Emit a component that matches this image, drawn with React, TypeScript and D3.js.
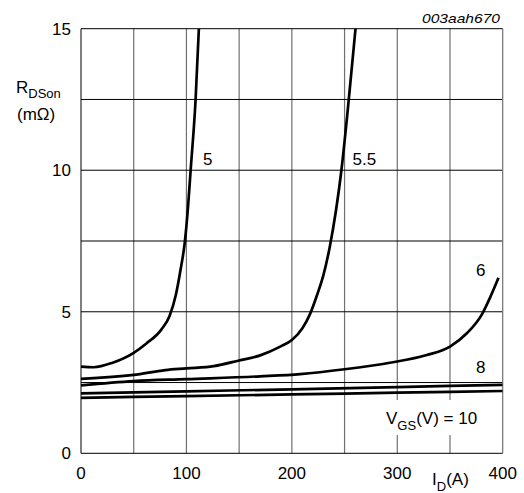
import React from "react";
import * as d3 from "d3";

// ---- data (I_D in A, R_DSon in mOhm) ----
const xTicks = [0, 100, 200, 300, 400];
const yTicks = [0, 5, 10, 15];
const xGrid = [50, 100, 150, 200, 250, 300, 350];
const yGrid = [2.5, 5, 7.5, 10, 12.5];

const vgs5: [number, number][] = [
  [0, 3.06], [12, 3.04], [30, 3.2], [50, 3.55], [62, 3.88], [76, 4.36], [84, 4.85],
  [90, 5.6], [94.5, 6.5], [98.5, 7.47], [101.5, 8.7], [104, 10.0], [108.7, 12.5], [111.8, 15],
];
const vgs55: [number, number][] = [
  [0, 2.63], [50, 2.77], [80, 2.94], [100, 3.0], [126, 3.08], [150, 3.28], [170, 3.46],
  [189, 3.77], [200, 4.0], [210, 4.42], [217, 4.9], [224, 5.6], [230, 6.3], [236, 7.3],
  [247, 10], [254, 12.5], [260.4, 15],
];
const vgs6: [number, number][] = [
  [0, 2.4], [50, 2.55], [100, 2.62], [170, 2.72], [208, 2.8], [250, 2.97], [293, 3.2],
  [328, 3.47], [350, 3.77], [366, 4.24], [380, 4.89], [388, 5.5], [396, 6.2],
];
const vgs8: [number, number][] = [
  [0, 2.12], [100, 2.19], [200, 2.26], [300, 2.34], [400, 2.42],
];
const vgs10: [number, number][] = [
  [0, 1.96], [100, 2.02], [200, 2.08], [300, 2.14], [400, 2.2],
];
const seriesList = [vgs5, vgs55, vgs6, vgs8, vgs10];

const FONT = "'Liberation Sans', Arial, Helvetica, sans-serif";

export default function App() {
  const L = 81, R = 502.7, T = 28.7, B = 453.3;
  const x = d3.scaleLinear().domain([0, 400]).range([L, R]);
  const y = d3.scaleLinear().domain([0, 15]).range([B, T]);
  const line = d3
    .line<[number, number]>()
    .x((d) => x(d[0]))
    .y((d) => y(d[1]))
    .curve(d3.curveMonotoneX);

  return (
    <svg
      width={524}
      height={493}
      style={{ position: "absolute", left: 0, top: 0, background: "#fff" }}
      fontFamily={FONT}
    >
      <defs>
        <clipPath id="plot">
          <rect x={L} y={T} width={R - L} height={B - T} />
        </clipPath>
      </defs>
      <rect x={0} y={0} width={524} height={493} fill="#fff" />
      {/* grid */}
      {xGrid.map((v) => (
        <line key={"vx" + v} x1={x(v)} x2={x(v)} y1={T} y2={B} stroke="#707070" strokeWidth={1.2} />
      ))}
      {yGrid.map((v) => (
        <line key={"hy" + v} x1={L} x2={R} y1={y(v)} y2={y(v)} stroke="#000" strokeWidth={1} />
      ))}
      {/* frame */}
      <line x1={L} x2={R} y1={T} y2={T} stroke="#000" strokeWidth={1} />
      <line x1={L} x2={R} y1={B} y2={B} stroke="#000" strokeWidth={1} />
      <line x1={L} x2={L} y1={T} y2={B} stroke="#000" strokeWidth={1} />
      <line x1={R} x2={R} y1={T} y2={B} stroke="#707070" strokeWidth={1.2} />

      {/* label backgrounds */}
      <rect x={382} y={400} width={115} height={35} fill="#fff" />

      {/* curves */}
      <g clipPath="url(#plot)">
        {seriesList.map((s, i) => (
          <path key={i} d={line(s) || ""} fill="none" stroke="#000" strokeWidth={2.7} strokeLinejoin="round" />
        ))}
      </g>

      {/* curve labels */}
      <g fontSize={17} fill="#000">
        <text x={203} y={165}>5</text>
        <text x={352.5} y={165}>5.5</text>
        <text x={476} y={276}>6</text>
        <text x={476} y={373}>8</text>
        <text x={386} y={423.5}>
          V<tspan fontSize={13} dy={6}>GS</tspan>
          <tspan dy={-6}>(V) = 10</tspan>
        </text>
      </g>

      {/* y ticks */}
      <g fontSize={17} fill="#000" textAnchor="end">
        {yTicks.map((v) => (
          <text key={"yt" + v} x={71} y={y(v) + 6}>{v}</text>
        ))}
      </g>
      {/* x ticks */}
      <g fontSize={17} fill="#000" textAnchor="middle">
        {xTicks.map((v) => (
          <text key={"xt" + v} x={x(v)} y={479}>{v}</text>
        ))}
      </g>

      {/* axis titles */}
      <text x={16} y={93} fontSize={17} fill="#000">
        R<tspan fontSize={13} dy={5}>DSon</tspan>
      </text>
      <text x={17} y={120} fontSize={17} fill="#000">(mΩ)</text>
      <text x={432} y={485} fontSize={17} fill="#000">
        I<tspan fontSize={13} dy={6}>D</tspan>
        <tspan dy={-6}>(A)</tspan>
      </text>

      <text
        x={422}
        y={23}
        fontSize={13.5}
        fontStyle="italic"
        fill="#000"
        textLength={78}
        lengthAdjust="spacingAndGlyphs"
      >
        003aah670
      </text>
    </svg>
  );
}
